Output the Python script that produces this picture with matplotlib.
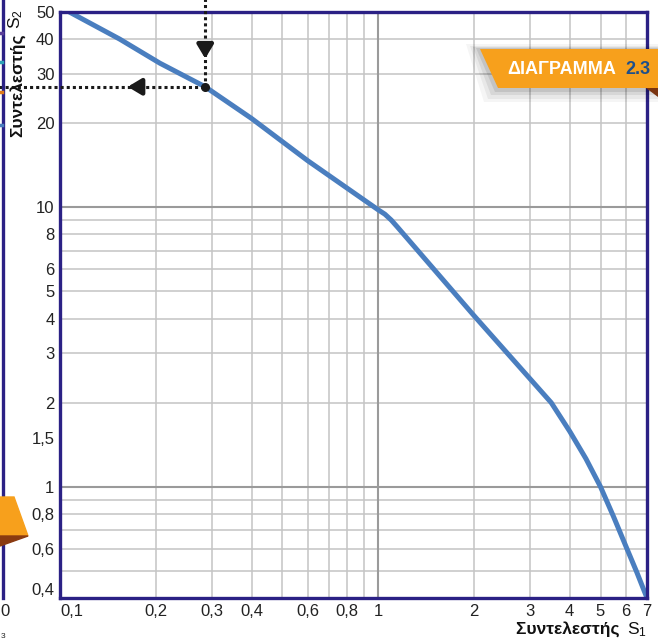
import matplotlib
matplotlib.use('Agg')
import matplotlib.pyplot as plt
from matplotlib.patches import Polygon
from matplotlib.lines import Line2D
from matplotlib.ticker import FixedLocator, NullFormatter

plt.rcParams['font.family'] = ['Liberation Sans', 'DejaVu Sans']
plt.rcParams['mathtext.default'] = 'regular'

# ── data ──────────────────────────────────────────────────────────────────────
s1 = [0.107, 0.154, 0.206, 0.286, 0.4, 0.6, 1.0, 1.05, 1.1, 1.15,
      2.0, 3.5, 4.0, 4.5, 5.0, 5.5, 6.0, 6.5, 7.0]
s2 = [50, 40, 32.8, 27, 20.8, 14.7, 9.8, 9.45, 9.0, 8.5,
      4.1, 2.0, 1.58, 1.26, 1.0, 0.78, 0.615, 0.495, 0.4]

x_ticks = [0.1, 0.2, 0.3, 0.4, 0.6, 0.8, 1, 2, 3, 4, 5, 6, 7]
x_labels = ['0,1', '0,2', '0,3', '0,4', '0,6', '0,8', '1', '2', '3', '4', '5', '6', '7']
y_ticks = [0.4, 0.6, 0.8, 1, 1.5, 2, 3, 4, 5, 6, 8, 10, 20, 30, 40, 50]
y_labels = ['0,4', '0,6', '0,8', '1', '1,5', '2', '3', '4', '5', '6', '8', '10',
            '20', '30', '40', '50']
x_grid = [0.2, 0.3, 0.4, 0.5, 0.6, 0.7, 0.8, 0.9, 2, 3, 4, 5, 6]
y_grid = [0.5, 0.6, 0.7, 0.8, 0.9, 2, 3, 4, 5, 6, 7, 8, 9, 20, 30, 40]
x_major = [1]
y_major = [1, 10]

# reading example: S1 = 0.286 -> S2 = 27
ex_s1, ex_s2 = 0.286, 27

W, H = 658, 642
NAVY = '#2b2185'
ORANGE = '#f7a01c'


def fx(x):
    return x / W


def fy(y):
    return 1 - y / H


fig = plt.figure(figsize=(W / 100, H / 100), dpi=100)
ax = fig.add_axes([fx(60), fy(598), 587 / W, 586 / H])
ax.set_xscale('log')
ax.set_yscale('log')
ax.set_xlim(0.1, 7)
ax.set_ylim(0.4, 50)

for g in x_grid:
    ax.axvline(g, color='#c4c4c4', lw=1.1, zorder=1)
for g in y_grid:
    ax.axhline(g, color='#c4c4c4', lw=1.1, zorder=1)
for g in x_major:
    ax.axvline(g, color='#9a9a9a', lw=1.5, zorder=1)
for g in y_major:
    ax.axhline(g, color='#9a9a9a', lw=1.5, zorder=1)

ax.plot(s1, s2, color='#4a7ebf', lw=3.6, solid_capstyle='butt',
        solid_joinstyle='round', zorder=3)

ax.xaxis.set_major_locator(FixedLocator(x_ticks))
ax.yaxis.set_major_locator(FixedLocator(y_ticks))
ax.xaxis.set_minor_formatter(NullFormatter())
ax.yaxis.set_minor_formatter(NullFormatter())
ax.set_xticklabels(x_labels)
ax.set_yticklabels(y_labels)
ax.tick_params(which='both', length=0, labelsize=12, labelcolor='#222222')
ax.tick_params(axis='x', pad=4)
ax.tick_params(axis='y', pad=4)
ax.get_xticklabels()[0].set_horizontalalignment('left')
ax.get_yticklabels()[0].set_verticalalignment('bottom')

for sp in ax.spines.values():
    sp.set_color(NAVY)
    sp.set_linewidth(2.4)
    sp.set_zorder(4)

# dotted reading lines + arrows
dot = dict(color='#1a1a1a', lw=2.2, linestyle=(0, (1, 1.0)), clip_on=False, zorder=6)
ax.plot([0.05, ex_s1], [ex_s2, ex_s2], **dot)
ax.plot([ex_s1, ex_s1], [ex_s2, 80], **dot)
ax.plot([ex_s1], [ex_s2], 'o', color='#1a1a1a', ms=5.5, zorder=7)
arr = dict(arrowstyle='-|>,head_length=0.5,head_width=0.3', color='#1a1a1a',
           lw=3.2, mutation_scale=16)
ax.annotate('', xy=(0.160, ex_s2), xytext=(0.186, ex_s2), arrowprops=arr,
            annotation_clip=False, zorder=7)
ax.annotate('', xy=(ex_s1, 33.3), xytext=(ex_s1, 39.5), arrowprops=arr,
            annotation_clip=False, zorder=7)

# axis titles
fig.text(fx(625), fy(634), 'Συντελεστής ', fontsize=12.5, fontweight='bold',
         ha='right', va='baseline', color='#111111')
fig.text(fx(627), fy(634), 'S$_1$', fontsize=12.5, ha='left', va='baseline',
         color='#111111')
fig.text(fx(25), fy(137), 'Συντελεστής', fontsize=12.5, fontweight='bold',
         rotation=90, ha='right', va='bottom', color='#111111')
fig.text(fx(25), fy(29), 'S$_2$', fontsize=12.5, rotation=90, ha='right',
         va='bottom', color='#111111')

# neighbouring panel remnants on the left
fig.add_artist(Line2D([fx(3), fx(3)], [fy(0), fy(598)], color=NAVY, lw=2.4,
                      transform=fig.transFigure, zorder=4))
for yy, c in [(33, '#5b3f99'), (62, '#2fa3b8'), (92, '#e07b1a'), (125, '#4a7ebf')]:
    fig.add_artist(Line2D([fx(0), fx(2)], [fy(yy), fy(yy)], color=c, lw=2.5,
                          transform=fig.transFigure, zorder=4))
fig.text(fx(5), fy(611), '0', fontsize=12, ha='center', va='center', color='#222222')
fig.text(fx(3), fy(636), '3', fontsize=6, ha='center', va='center', color='#222222')

fig.add_artist(Polygon([(fx(0), fy(497)), (fx(14), fy(497)), (fx(28), fy(536)),
                        (fx(0), fy(536))], closed=True, color=ORANGE,
                       transform=fig.transFigure, zorder=5))
fig.add_artist(Polygon([(fx(0), fy(536)), (fx(28), fy(536)), (fx(0), fy(546))],
                       closed=True, color='#8a3a10', transform=fig.transFigure,
                       zorder=5))

# banner
for i, a in enumerate([0.04, 0.05, 0.07, 0.09]):
    d = 14 - 3.5 * i
    fig.add_artist(Polygon([(fx(480 - d), fy(49 - d / 3)), (fx(658), fy(49 - d / 3)),
                            (fx(658), fy(88 + d)), (fx(498 - d), fy(88 + d))],
                           closed=True, color='black', alpha=a, lw=0,
                           transform=fig.transFigure, zorder=5))
fig.add_artist(Polygon([(fx(480), fy(49)), (fx(658), fy(49)), (fx(658), fy(88)),
                        (fx(498), fy(88))], closed=True, color=ORANGE, lw=0,
                       transform=fig.transFigure, zorder=6))
fig.add_artist(Polygon([(fx(646), fy(88)), (fx(658), fy(88)), (fx(658), fy(97))],
                       closed=True, color='#7a3410', lw=0,
                       transform=fig.transFigure, zorder=6))
fig.text(fx(507), fy(70), 'ΔΙΑΓΡΑΜΜΑ', fontsize=13, fontweight='bold',
         color='white', ha='left', va='center', zorder=7)
fig.text(fx(625), fy(70), '2.3', fontsize=13, fontweight='bold',
         color='#1d4f8c', ha='left', va='center', zorder=7)

fig.savefig('out.png', dpi=100)
